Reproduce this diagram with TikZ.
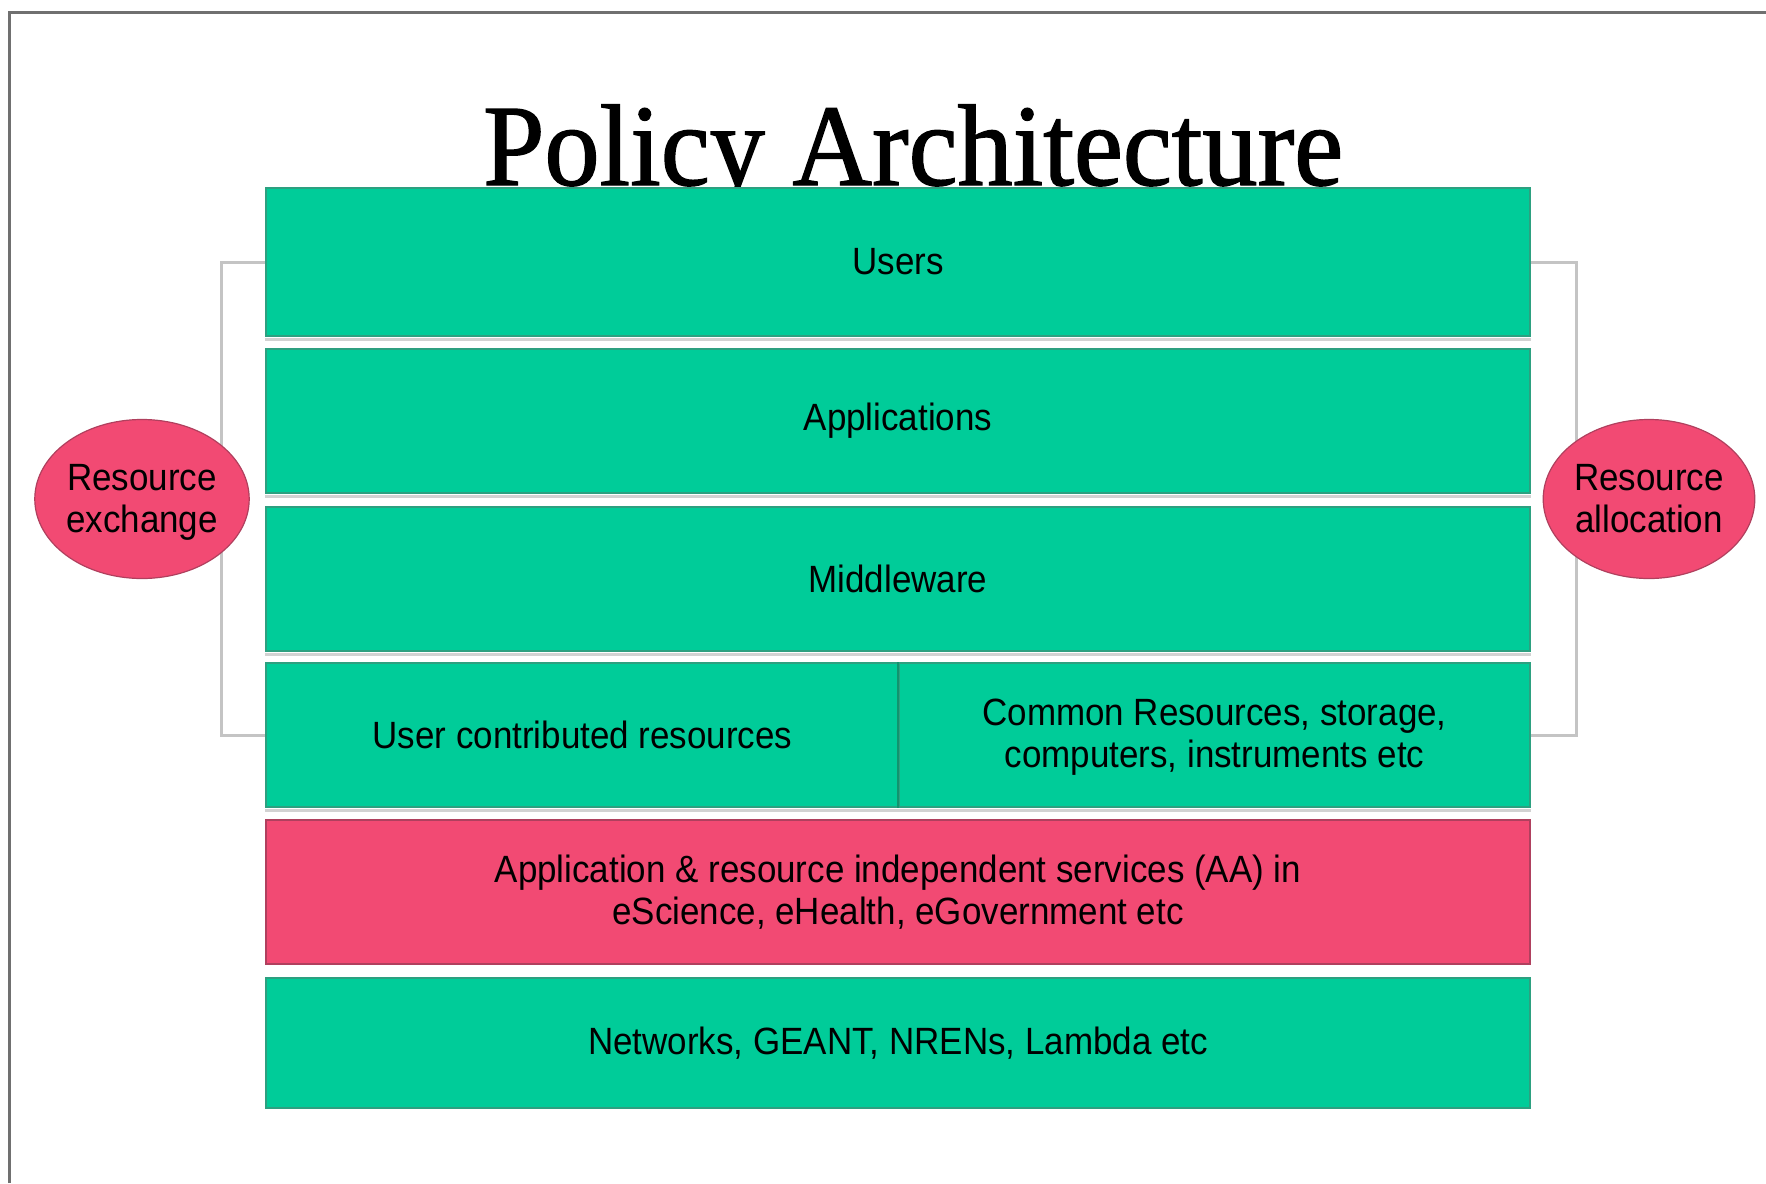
\documentclass[tikz,border=0pt]{standalone}
\usepackage{fontspec}
\setmainfont{Liberation Sans}[FakeStretch=0.92]
\newfontfamily\titlefont{Liberation Serif}[FakeStretch=0.95,FakeBold=1.2]
\usetikzlibrary{shapes.geometric}
\definecolor{boxgreen}{RGB}{0,204,153}
\definecolor{boxgreenline}{RGB}{45,160,128}
\definecolor{divgreen}{RGB}{18,147,110}
\definecolor{boxpink}{RGB}{242,74,115}
\definecolor{pinkline}{RGB}{176,64,94}
\definecolor{framegray}{RGB}{112,112,112}
\definecolor{bracketgray}{RGB}{196,196,196}
\definecolor{shadowgray}{RGB}{210,210,210}
% two centred lines, lowered a little without changing the reported size
\newcommand\lowpair[3]{\raisebox{-#1}[\height][\depth]{\begin{tabular}{@{}c@{}}#2\\#3\end{tabular}}}
\begin{document}
\begin{tikzpicture}[x=1pt,y=-1pt,
  txt/.style={font=\fontsize{38}{42}\selectfont, text=black, align=center},
  layer/.style={txt, draw=boxgreenline, fill=boxgreen, line width=2pt,
    minimum width=1264pt, minimum height=#1, inner sep=0pt},
  layer/.default=144pt,
  halflayer/.style={txt, draw=boxgreenline, fill=boxgreen, line width=2pt,
    minimum width=#1, minimum height=144pt, inner sep=0pt},
  halflayer/.default=632pt,
  pinklayer/.style={txt, draw=pinkline, fill=boxpink, line width=2pt,
    minimum width=1264pt, minimum height=144pt, inner sep=0pt},
  blob/.style={txt, ellipse, draw=pinkline, fill=boxpink, line width=1.2pt,
    minimum width=209pt, minimum height=159pt, inner sep=0pt},
  bracket/.style={draw=bracketgray, line width=3pt},
  shadow/.style={draw=shadowgray, line width=2.5pt},
  frameline/.style={draw=framegray, line width=3pt}
]
\useasboundingbox (0,0) rectangle (1766,1183);
% frame
\draw[frameline] (9,1183) -- (9,12) -- (1766,12);
% title
\node[anchor=base west, inner sep=0pt, font=\titlefont\fontsize{116}{120}\selectfont] (title) at (483,185) {Policy Architecture};
% layers
\node[layer=148pt] (users) at (898,262) {Users};
\node[layer] (apps) at (898,421) {Applications};
\node[layer] (mw) at (898,579) {Middleware};
\node[halflayer=633pt] (ucr) at (582.5,735) {User contributed resources};
\node[halflayer=631pt] (common) at (1214.5,735) {\lowpair{3.5pt}{Common Resources, storage,}{computers, instruments etc}};
\draw[divgreen, line width=2.5pt] (common.north west) -- (common.south west);
\node[pinklayer] (aa) at (898,892) {\lowpair{3.5pt}{Application \& resource independent services (AA) in}{eScience, eHealth, eGovernment etc}};
\node[layer=130pt] (net) at (898,1043) {Networks, GEANT, NRENs, Lambda etc};
% shadows under layers
\foreach \n in {users,apps,mw,ucr,common}{
  \draw[shadow] ([yshift=-2.5pt]\n.south west) -- ([yshift=-2.5pt]\n.south east);
}
% brackets
\draw[bracket] (users.west) -- ++(-44,0) |- (ucr.west);
\draw[bracket] (users.east) -- ++(45,0) |- (common.east);
% side ellipses
\node[blob] (exch) at (142,499) {\lowpair{4.5pt}{Resource}{exchange}};
\node[blob] (alloc) at (1649,499) {\lowpair{4.5pt}{Resource}{allocation}};
\end{tikzpicture}
\end{document}
